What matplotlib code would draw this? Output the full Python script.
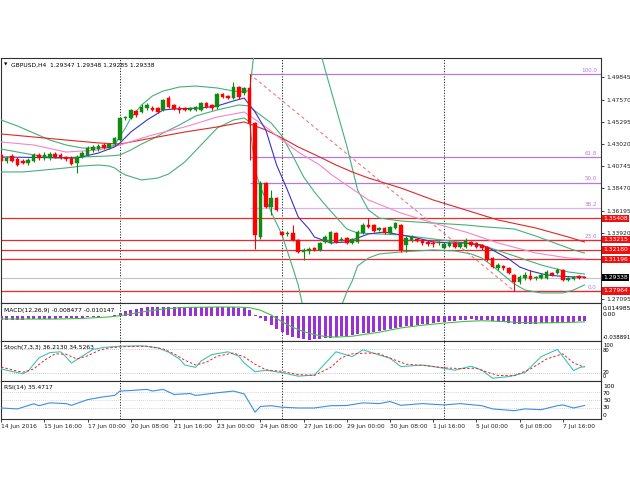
import numpy as np
import matplotlib
matplotlib.use("Agg")
import matplotlib.pyplot as plt
import matplotlib.transforms as mtransforms

W, H = 630, 490
FONT = "DejaVu Sans"
FS = 4.3

# ---------------------------------------------------------------- data
# H4 candles, 14 Jun 2016 08:00 .. 8 Jul 2016 (index = bar number)
opens = [1.4189, 1.4127, 1.4179, 1.4148, 1.4127, 1.4107, 1.4127, 1.4189, 1.4158, 1.4158,
         1.4199, 1.4189, 1.4168, 1.4158, 1.4107, 1.4168, 1.4189, 1.4240, 1.4250, 1.4291,
         1.4260, 1.4301, 1.4342, 1.4568, 1.4568, 1.4639, 1.4629, 1.4670, 1.4670, 1.4670,
         1.4650, 1.4772, 1.4701, 1.4670, 1.4670, 1.4650, 1.4650, 1.4650, 1.4721, 1.4701,
         1.4680, 1.4813, 1.4793, 1.4772, 1.4885, 1.4824, 1.4875, 1.4516, 1.3349, 1.3902,
         1.3656, 1.3748, 1.3400, 1.3380, 1.3390, 1.3318, 1.3196, 1.3206, 1.3236, 1.3216,
         1.3298, 1.3288, 1.3390, 1.3318, 1.3339, 1.3288, 1.3298, 1.3390, 1.3472, 1.3472,
         1.3421, 1.3441, 1.3390, 1.3441, 1.3472, 1.3267, 1.3318, 1.3329, 1.3318, 1.3298,
         1.3288, 1.3288, 1.3236, 1.3257, 1.3288, 1.3247, 1.3247, 1.3298, 1.3288, 1.3267,
         1.3247, 1.3134, 1.3032, 1.3052, 1.3032, 1.2960, 1.2888, 1.2929, 1.2950, 1.2929,
         1.2929, 1.2929, 1.2980, 1.2980, 1.3011, 1.2909, 1.2919, 1.2950, 1.29347]
highs = [1.4209, 1.4179, 1.4199, 1.4168, 1.4148, 1.4158, 1.4209, 1.4209, 1.4219, 1.4219,
         1.4219, 1.4209, 1.4179, 1.4179, 1.4189, 1.4230, 1.4281, 1.4291, 1.4301, 1.4312,
         1.4312, 1.4373, 1.4578, 1.4588, 1.4660, 1.4650, 1.4711, 1.4721, 1.4691, 1.4680,
         1.4762, 1.4793, 1.4711, 1.4691, 1.4680, 1.4680, 1.4691, 1.4732, 1.4732, 1.4711,
         1.4824, 1.4824, 1.4803, 1.4936, 1.4896, 1.4885, 1.5018, 1.4527, 1.3923, 1.3912,
         1.3830, 1.3759, 1.3411, 1.3411, 1.3472, 1.3329, 1.3236, 1.3247, 1.3247, 1.3298,
         1.3370, 1.3411, 1.3400, 1.3349, 1.3349, 1.3339, 1.3421, 1.3492, 1.3543, 1.3482,
         1.3451, 1.3451, 1.3462, 1.3503, 1.3482, 1.3359, 1.3370, 1.3339, 1.3329, 1.3318,
         1.3308, 1.3308, 1.3298, 1.3308, 1.3298, 1.3298, 1.3339, 1.3308, 1.3298, 1.3277,
         1.3257, 1.3144, 1.3083, 1.3062, 1.3042, 1.2970, 1.2960, 1.2991, 1.3011, 1.2950,
         1.2980, 1.3011, 1.2991, 1.3032, 1.3021, 1.2940, 1.2950, 1.2960, 1.29348]
lows = [1.4107, 1.4107, 1.4117, 1.4076, 1.4097, 1.4086, 1.4117, 1.4138, 1.4138, 1.4138,
        1.4158, 1.4148, 1.4127, 1.4086, 1.4005, 1.4158, 1.4179, 1.4219, 1.4230, 1.4250,
        1.4250, 1.4281, 1.4332, 1.4547, 1.4557, 1.4578, 1.4619, 1.4650, 1.4639, 1.4619,
        1.4639, 1.4670, 1.4650, 1.4619, 1.4639, 1.4639, 1.4639, 1.4639, 1.4670, 1.4650,
        1.4660, 1.4772, 1.4762, 1.4762, 1.4762, 1.4803, 1.4138, 1.3229, 1.3329, 1.3646,
        1.3574, 1.3615, 1.3359, 1.3359, 1.3308, 1.3185, 1.3114, 1.3175, 1.3206, 1.3206,
        1.3288, 1.3277, 1.3288, 1.3308, 1.3277, 1.3277, 1.3288, 1.3380, 1.3441, 1.3400,
        1.3411, 1.3380, 1.3380, 1.3431, 1.3196, 1.3196, 1.3298, 1.3298, 1.3267, 1.3257,
        1.3247, 1.3267, 1.3226, 1.3247, 1.3236, 1.3236, 1.3236, 1.3257, 1.3236, 1.3216,
        1.3103, 1.3032, 1.3011, 1.3011, 1.2970, 1.2796, 1.2868, 1.2909, 1.2909, 1.2909,
        1.2919, 1.2919, 1.2950, 1.2970, 1.2899, 1.2899, 1.2909, 1.2919, 1.29285]
closes = [1.4127, 1.4158, 1.4127, 1.4086, 1.4107, 1.4138, 1.4189, 1.4158, 1.4189, 1.4199,
          1.4168, 1.4158, 1.4148, 1.4097, 1.4168, 1.4209, 1.4260, 1.4271, 1.4281, 1.4260,
          1.4301, 1.4363, 1.4568, 1.4578, 1.4650, 1.4598, 1.4680, 1.4701, 1.4650, 1.4629,
          1.4752, 1.4680, 1.4660, 1.4650, 1.4650, 1.4670, 1.4680, 1.4721, 1.4680, 1.4670,
          1.4813, 1.4783, 1.4772, 1.4885, 1.4783, 1.4875, 1.4516, 1.3370, 1.3902, 1.3656,
          1.3748, 1.3626, 1.3370, 1.3390, 1.3318, 1.3196, 1.3216, 1.3226, 1.3216, 1.3288,
          1.3349, 1.3400, 1.3298, 1.3329, 1.3288, 1.3329, 1.3400, 1.3472, 1.3451, 1.3411,
          1.3441, 1.3390, 1.3451, 1.3492, 1.3216, 1.3339, 1.3349, 1.3308, 1.3288, 1.3277,
          1.3277, 1.3298, 1.3277, 1.3288, 1.3247, 1.3288, 1.3308, 1.3267, 1.3247, 1.3236,
          1.3114, 1.3042, 1.3062, 1.3032, 1.2980, 1.2888, 1.2940, 1.2960, 1.2919, 1.2940,
          1.2960, 1.2991, 1.2960, 1.3011, 1.2909, 1.2929, 1.2940, 1.2929, 1.29338]

# moving averages / bands (bar index, price)
ma_fast_idx = [0, 14, 18, 21, 22, 24, 27, 30, 32, 37, 40, 43, 45, 47, 49, 51, 53, 55, 57, 58,
               61, 64, 66, 68, 71, 74, 77, 80, 83, 86, 89, 91, 94, 96, 98, 101, 103, 106, 108]
ma_fast = [1.4168, 1.4158, 1.4209, 1.4271, 1.4312, 1.4424, 1.4547, 1.4650, 1.4660, 1.4670,
           1.4691, 1.4742, 1.4772, 1.4629, 1.4445, 1.4086, 1.3830, 1.3554, 1.3431, 1.3349,
           1.3288, 1.3298, 1.3339, 1.3380, 1.3400, 1.3370, 1.3339, 1.3298, 1.3288, 1.3288,
           1.3267, 1.3216, 1.3124, 1.3042, 1.3001, 1.2960, 1.2950, 1.2940, 1.2940]

ma_mid_idx = [0, 6, 12, 18, 22, 28, 34, 40, 45, 49, 52, 55, 59, 61, 68, 74, 80, 86, 92, 99,
              105, 108]
ma_mid = [1.4322, 1.4291, 1.4219, 1.4240, 1.4291, 1.4394, 1.4476, 1.4578, 1.4629, 1.4476,
          1.4342, 1.4219, 1.4086, 1.3994, 1.3728, 1.3595, 1.3492, 1.3400, 1.3288, 1.3185,
          1.3134, 1.3124]

ma_slow_idx = [0, 6, 12, 18, 22, 28, 34, 40, 45, 49, 52, 55, 59, 62, 65, 68, 74, 80, 86, 92,
               99, 105, 108]
ma_slow = [1.4404, 1.4373, 1.4342, 1.4312, 1.4301, 1.4363, 1.4424, 1.4476, 1.4527, 1.4445,
           1.4363, 1.4271, 1.4168, 1.4086, 1.4015, 1.3953, 1.3851, 1.3728, 1.3626, 1.3523,
           1.3441, 1.3349, 1.3298]

bb_up_idx = [0, 3, 6, 9, 12, 15, 18, 20, 21, 22, 23, 24, 26, 28, 30, 33, 36, 40, 43, 45,
             46, 47, 58, 59, 60, 62, 64, 65, 66, 68, 70, 74, 80, 86, 90, 95, 99, 103, 106, 108]
bb_up = [1.4547, 1.4486, 1.4414, 1.4342, 1.4291, 1.4260, 1.4260, 1.4271, 1.4291, 1.4383,
         1.4465, 1.4568, 1.4701, 1.4793, 1.4844, 1.4885, 1.4895, 1.4875, 1.4844, 1.4834,
         1.4854, 1.5315, 1.5366, 1.5264, 1.5059, 1.4670, 1.4281, 1.4056, 1.3830, 1.3626,
         1.3543, 1.3513, 1.3492, 1.3472, 1.3451, 1.3431, 1.3359, 1.3277, 1.3216, 1.3185]

bb_mid_idx = [0, 5, 10, 15, 20, 22, 24, 26, 28, 30, 33, 36, 40, 44, 46, 47, 48, 50, 52, 54,
              56, 58, 60, 62, 64, 66, 70, 74, 80, 86, 90, 95, 100, 105, 108]
bb_mid = [1.4250, 1.4199, 1.4158, 1.4168, 1.4179, 1.4189, 1.4240, 1.4301, 1.4353, 1.4414,
          1.4496, 1.4588, 1.4650, 1.4701, 1.4691, 1.4639, 1.4598, 1.4516, 1.4383, 1.4179,
          1.3964, 1.3810, 1.3677, 1.3554, 1.3431, 1.3390, 1.3380, 1.3370, 1.3329, 1.3288,
          1.3247, 1.3155, 1.3062, 1.2991, 1.2970]

bb_lo_idx = [0, 4, 8, 12, 15, 18, 20, 21, 22, 23, 26, 29, 31, 34, 37, 40, 43, 45, 46, 47,
             48, 50, 52, 54, 55, 56, 62, 64, 65, 66, 68, 70, 74, 80, 84, 87, 89, 91, 93, 95,
             97, 100, 104, 106, 108]
bb_lo = [1.4015, 1.4015, 1.4035, 1.4056, 1.4076, 1.4086, 1.4076, 1.4056, 1.4015, 1.3984,
         1.3933, 1.3953, 1.3994, 1.4117, 1.4291, 1.4465, 1.4547, 1.4568, 1.4527, 1.4035,
         1.3861, 1.3605, 1.3370, 1.3032, 1.2858, 1.2602, 1.2499, 1.2786, 1.2899, 1.3052,
         1.3134, 1.3175, 1.3196, 1.3216, 1.3206, 1.3175, 1.3134, 1.3052, 1.2960, 1.2868,
         1.2806, 1.2776, 1.2776, 1.2806, 1.2858]

# horizontal levels
red_levels = [1.35408, 1.33215, 1.32180, 1.31196, 1.27964]
last_price = 1.29338
price_ticks = [1.49845, 1.47570, 1.45295, 1.43020, 1.40745, 1.38470, 1.36195, 1.33920, 1.27095]

# Fibonacci retracement from the 24 Jun high to the 6 Jul low
fib_start_idx, fib_end_idx = 46, 95
fib_high, fib_low = 1.5018, 1.2796
fib_ratios = [1.0, 0.618, 0.5, 0.382, 0.236, 0.0]
fib_names = ["100.0", "61.8", "50.0", "38.2", "23.6", "0.0"]

# MACD(12,26,9): histogram per bar, signal line
macd_hist = [-0.0069, -0.0068, -0.0067, -0.0066, -0.0064, -0.0062, -0.0060, -0.0057, -0.0054, -0.0051,
             -0.0048, -0.0045, -0.0042, -0.0040, -0.0036, -0.0031, -0.0026, -0.0020, -0.0016, -0.0010,
             -0.0004, 0.0010, 0.0040, 0.0070, 0.0095, 0.0115, 0.0128, 0.0138, 0.0144, 0.0147,
             0.0149, 0.0150, 0.0148, 0.0146, 0.0144, 0.0143, 0.0142, 0.0142, 0.0141, 0.0140,
             0.0142, 0.0141, 0.0138, 0.0136, 0.0132, 0.0120, 0.0093, 0.0010, -0.0040, -0.0090,
             -0.0150, -0.0210, -0.0260, -0.0310, -0.0340, -0.0362, -0.0380, -0.0389, -0.0386, -0.0377,
             -0.0367, -0.0357, -0.0347, -0.0337, -0.0326, -0.0315, -0.0302, -0.0290, -0.0275, -0.0260,
             -0.0243, -0.0228, -0.0213, -0.0199, -0.0186, -0.0173, -0.0161, -0.0150, -0.0140, -0.0130,
             -0.0120, -0.0110, -0.0100, -0.0090, -0.0080, -0.0070, -0.0064, -0.0062, -0.0064, -0.0070,
             -0.0078, -0.0088, -0.0098, -0.0110, -0.0122, -0.0132, -0.0138, -0.0140, -0.0137, -0.0132,
             -0.0127, -0.0122, -0.0118, -0.0115, -0.0112, -0.0105, -0.0097, -0.0090, -0.0085]
macd_sig_idx = [0, 10, 15, 20, 22, 26, 30, 34, 40, 44, 46, 48, 50, 52, 54, 56, 58, 60, 62, 65,
                70, 74, 78, 82, 86, 89, 93, 96, 100, 104, 108]
macd_sig = [-0.0054, -0.0055, -0.0045, -0.0020, 0.0000, 0.0060, 0.0110, 0.0135, 0.0142, 0.0140,
            0.0130, 0.0090, 0.0010, -0.0100, -0.0190, -0.0260, -0.0310, -0.0340, -0.0350, -0.0335,
            -0.0270, -0.0200, -0.0155, -0.0120, -0.0093, -0.0082, -0.0095, -0.0112, -0.0118, -0.0112,
            -0.0101]

# Stochastic(7,3,3)
stoch_main_idx = [0, 2, 4, 5, 7, 9, 11, 12, 13, 15, 17, 19, 22, 26, 29, 31, 33, 34, 36, 37,
                  39, 42, 44, 45, 47, 49, 52, 55, 58, 60, 62, 65, 67, 70, 72, 74, 78, 81, 84, 87,
                  89, 91, 94, 97, 100, 103, 106, 107, 108]
stoch_main = [30, 24, 18, 25, 58, 71, 73, 60, 45, 62, 79, 84, 87, 88, 83, 72, 55, 40, 34, 50,
              66, 73, 62, 45, 23, 27, 21, 12, 15, 44, 73, 61, 78, 65, 57, 36, 40, 34, 27, 37,
              27, 7, 11, 21, 61, 79, 26, 33, 36.2]
stoch_sig_idx = [0, 2, 4, 6, 8, 10, 12, 14, 16, 18, 20, 23, 27, 30, 32, 34, 36, 38, 40, 43,
                 45, 47, 49, 52, 55, 58, 61, 63, 65, 68, 70, 73, 75, 79, 82, 85, 88, 90, 92, 95,
                 98, 101, 104, 106, 108]
stoch_sig = [35, 28, 22, 30, 52, 68, 67, 55, 63, 76, 83, 86, 87, 80, 68, 52, 40, 47, 62, 70,
             60, 42, 28, 24, 16, 14, 34, 58, 68, 70, 68, 52, 42, 38, 33, 31, 32, 22, 14, 13,
             30, 55, 68, 45, 34.5]

# RSI(14)
rsi_idx = [0, 3, 6, 7, 9, 12, 13, 16, 19, 21, 22, 24, 27, 28, 30, 32, 35, 36, 40, 43,
           45, 46, 47, 48, 50, 52, 55, 58, 61, 64, 67, 70, 72, 74, 78, 82, 85, 89, 91, 95,
           97, 100, 103, 104, 106, 108]
rsi = [29, 26.5, 40, 35, 42.5, 40.5, 36, 51, 58.5, 62, 73.5, 75, 78, 73.5, 78, 64.5, 67, 62, 69, 73.5,
       66, 42, 18, 33, 35, 31, 29, 29, 35, 35.5, 42.5, 40.5, 46, 36, 40.5, 37, 40.5, 35, 26.5, 22,
       26.5, 24.5, 35, 37, 29, 35.5]

# time axis
week_starts = [22, 52, 82]
date_idx = [0, 8, 16, 24, 32, 40, 48, 56, 64, 72, 80, 88, 96, 104]
date_labels = ["14 Jun 2016", "15 Jun 16:00", "17 Jun 00:00", "20 Jun 08:00", "21 Jun 16:00",
               "23 Jun 00:00", "24 Jun 08:00", "27 Jun 16:00", "29 Jun 00:00", "30 Jun 08:00",
               "1 Jul 16:00", "5 Jul 00:00", "6 Jul 08:00", "7 Jul 16:00"]

# ---------------------------------------------------------------- colours
BULL, BEAR = "#118a11", "#ff0000"
C_FAST, C_MID, C_SLOW = "#3434c8", "#f585c8", "#e32626"
C_BB = "#45b07a"
C_FIB = "#b77ad9"
C_LEVEL = "#eb2a2a"


def rect(x0, y0, x1, y1):
    return [x0 / W, 1 - y1 / H, (x1 - x0) / W, (y1 - y0) / H]


def style_panel(ax):
    ax.set_xlim(-0.04, 111.07)
    for s in ax.spines.values():
        s.set_color("#303030")
        s.set_linewidth(0.8)
    ax.tick_params(left=False, labelleft=False, bottom=False, labelbottom=False,
                   right=False, labelright=False)
    for w in week_starts:
        ax.axvline(w, color="#202020", lw=0.7, ls=(0, (1.2, 1.6)), zorder=1)


def ftext(x, y, s, **kw):
    kw.setdefault("fontsize", FS)
    kw.setdefault("family", FONT)
    kw.setdefault("va", "center")
    fig.text(x / W, 1 - y / H, s, **kw)


plt.rcParams["font.family"] = FONT
fig = plt.figure(figsize=(W / 100, H / 100), dpi=100)

# ---------------------------------------------------------------- main price panel
ax = fig.add_axes(rect(1, 58, 601, 303))
style_panel(ax)
ax.set_ylim(1.2673, 1.5182)

for lv in red_levels:
    ax.axhline(lv, color=C_LEVEL, lw=0.9, zorder=2)
ax.axhline(last_price, color="#c4c4c4", lw=0.8, zorder=1.5)

fib_range = fib_high - fib_low
for r, name in zip(fib_ratios, fib_names):
    p = fib_low + r * fib_range
    col = "#d6b4f2" if name == "38.2" else C_FIB
    ax.hlines(p, fib_start_idx, 112, color=col, lw=0.9, zorder=1.8)
    ax.text(110.3, p + 0.0012, name, ha="right", va="bottom", fontsize=FS - 0.2,
            color=C_FIB, zorder=6)
ax.plot([fib_start_idx, fib_end_idx], [fib_high, fib_low], color="#f07a7a", lw=0.8,
        ls=(0, (3, 2.5)), zorder=2)

ax.plot(bb_up_idx, bb_up, color=C_BB, lw=0.8, zorder=3)
ax.plot(bb_mid_idx, bb_mid, color=C_BB, lw=0.8, zorder=3)
ax.plot(bb_lo_idx, bb_lo, color=C_BB, lw=0.8, zorder=3)
ax.plot(ma_slow_idx, ma_slow, color=C_SLOW, lw=0.8, zorder=3)
ax.plot(ma_mid_idx, ma_mid, color=C_MID, lw=0.8, zorder=3)
ax.plot(ma_fast_idx, ma_fast, color=C_FAST, lw=0.8, zorder=3)

idx = np.arange(len(opens))
o, h, l, c = map(np.array, (opens, highs, lows, closes))
cols = np.where(c >= o, BULL, BEAR)
ax.vlines(idx, l, h, colors=cols, lw=0.8, zorder=4)
body = np.maximum(np.abs(c - o), 0.00035)
ax.bar(idx, body, bottom=np.minimum(o, c), width=0.68, color=cols, edgecolor=cols,
       lw=0.3, zorder=5)

ax.yaxis.tick_right()
ax.set_yticks(price_ticks)
ax.set_yticklabels([f"{t:.5f}" for t in price_ticks])
ax.tick_params(axis="y", right=True, labelright=True, length=2, width=0.6, pad=1.5,
               labelsize=FS, colors="#202020")

tr = mtransforms.blended_transform_factory(ax.transAxes, ax.transData)
for lv in red_levels:
    ax.text(1.0 + 2.5 / 600, lv, f"{lv:.5f}", transform=tr, ha="left", va="center",
            fontsize=FS, color="white", clip_on=False, zorder=10,
            bbox=dict(facecolor="#f01010", edgecolor="none", pad=0.9))
ax.text(1.0 + 2.5 / 600, last_price, f"{last_price:.5f}", transform=tr, ha="left",
        va="center", fontsize=FS, color="white", clip_on=False, zorder=10,
        bbox=dict(facecolor="#000000", edgecolor="none", pad=0.9))

ftext(4, 65, "\u25bc", fontsize=3.2)
ftext(11, 65, f"GBPUSD,H4  {opens[-1]:.5f} {highs[-1]:.5f} {lows[-1]:.5f} {closes[-1]:.5f}")

# ---------------------------------------------------------------- MACD
axm = fig.add_axes(rect(1, 303, 601, 341))
style_panel(axm)
axm.set_ylim(-0.04131, 0.02073)
axm.bar(idx, macd_hist, width=0.55, color="#9b30d9", zorder=3)
axm.plot(macd_sig_idx, macd_sig, color="#3cc43c", lw=0.8, zorder=4)
ftext(4, 310, "MACD(12,26,9) -0.008477 -0.010147")
ftext(603, 308, "0.014985")
ftext(603, 314.5, "0.00")
ftext(603, 337, "-0.038891", fontsize=FS - 0.3)

# ---------------------------------------------------------------- Stochastic
axs = fig.add_axes(rect(1, 341, 601, 381))
style_panel(axs)
axs.set_ylim(0, 100)
for lv in (80, 20):
    axs.axhline(lv, color="#b8b8b8", lw=0.6, ls=(0, (1, 1.5)), zorder=1)
axs.plot(stoch_main_idx, stoch_main, color="#3cc4b4", lw=0.8, zorder=3)
axs.plot(stoch_sig_idx, stoch_sig, color="#ee2222", lw=0.7, ls=(0, (2.5, 2)), zorder=3)
ftext(4, 348, "Stoch(7,3,3) 36.2130 34.5263")
ftext(603, 345.5, "100", fontsize=FS - 0.5)
ftext(603, 350, "80", fontsize=FS - 0.5)
ftext(603, 372, "20", fontsize=FS - 0.5)
ftext(603, 376.5, "0", fontsize=FS - 0.5)

# ---------------------------------------------------------------- RSI
axr = fig.add_axes(rect(1, 381, 601, 419))
style_panel(axr)
axr.set_ylim(0, 100)
for lv in (70, 50, 30):
    axr.axhline(lv, color="#c8c8c8", lw=0.6, ls=(0, (1, 1.5)), zorder=1)
axr.plot(rsi_idx, rsi, color="#3a8ee6", lw=0.8, zorder=3)
ftext(4, 388, "RSI(14) 35.4717")
for lab, yy in (("100", 386), ("70", 393.3), ("50", 400.7), ("30", 407.7), ("0", 415)):
    ftext(603, yy, lab)

axr.set_xticks(date_idx)
axr.set_xticklabels(date_labels)
axr.tick_params(axis="x", bottom=True, labelbottom=True, length=2, width=0.6, pad=1.5,
                labelsize=FS, colors="#202020")
for lbl in axr.get_xticklabels():
    lbl.set_ha("left")

fig.savefig("out.png", dpi=100)
plt.close(fig)
